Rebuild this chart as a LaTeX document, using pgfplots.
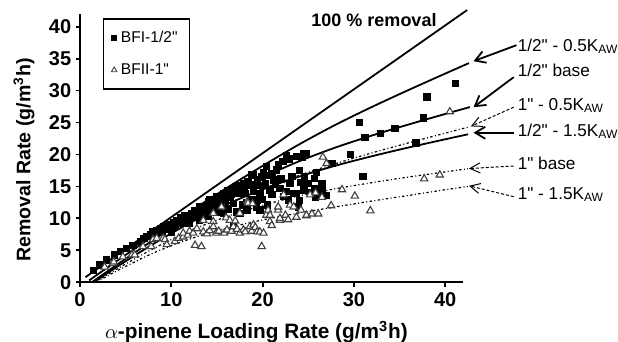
\documentclass[border=0pt]{standalone}
\usepackage{fontspec}
\setmainfont{Liberation Sans}[Ligatures=TeXOff]
\usepackage{pgfplots}
\usepackage{pgfplotstable}
\pgfplotsset{compat=1.18}
\usetikzlibrary{arrows.meta}

\pgfplotstableread{
x y
1.5 1.9
2.2 2.7
2.9 3.5
3.8 4.3
4.4 4.8
5.1 5.3
5.8 5.8
6.6 6.4
7.0 6.9
7.3 7.2
7.7 7.5
8.0 7.9
8.2 7.4
8.4 8.1
8.6 7.9
8.8 8.4
9.0 8.0
9.2 8.7
9.4 8.3
9.7 9.0
9.9 8.6
10.0 7.9
10.2 9.3
10.4 8.8
10.6 9.7
10.8 9.2
11.0 10.1
11.2 9.3
11.5 10.5
11.7 9.5
11.9 10.0
12.0 9.2
12.2 10.8
12.4 10.2
12.6 11.2
12.8 10.8
13.0 10.6
13.1 9.7
13.1 11.8
13.4 10.9
13.5 11.8
13.8 11.3
14.0 10.3
14.1 12.6
14.2 12.9
14.4 11.6
14.6 12.4
14.8 11.9
15.0 13.4
15.2 11.0
15.3 12.0
15.4 12.6
15.7 13.4
15.7 13.9
15.7 10.8
15.9 12.8
16.2 14.4
16.2 11.5
16.4 13.3
16.6 13.8
16.8 14.7
16.8 14.2
16.8 12.3
16.8 9.2
17.0 15.0
17.2 11.0
17.3 14.0
17.5 15.2
17.5 10.8
17.7 14.4
17.8 12.1
17.9 15.5
18.0 14.8
18.1 13.9
18.3 12.4
18.3 11.3
18.4 15.7
18.6 15.2
18.7 13.0
18.8 16.8
19.0 16.8
19.0 15.0
19.0 14.2
19.3 11.8
19.4 12.9
19.4 16.0
19.7 13.9
19.7 11.3
19.8 15.2
19.9 16.5
20.0 13.0
20.1 17.1
20.3 15.4
20.4 18.1
20.5 12.1
20.6 16.7
20.8 14.4
21.0 17.0
21.0 13.8
21.2 16.0
21.4 15.4
21.5 17.6
21.7 18.4
21.9 14.7
22.0 16.2
22.2 18.9
22.3 13.4
22.6 19.9
22.6 14.2
22.8 12.9
22.9 19.3
23.0 15.5
23.2 16.6
23.4 13.9
23.7 19.7
23.7 13.9
23.9 11.8
24.0 17.5
24.0 12.8
24.2 15.6
24.3 19.5
24.5 20.2
24.5 14.4
24.5 14.7
24.6 16.5
24.8 20.2
25.0 15.5
25.3 14.0
25.7 14.7
25.7 16.3
25.8 13.3
25.9 13.4
25.9 17.2
26.5 15.4
26.5 14.2
27.0 13.6
27.6 18.6
29.6 20.0
30.6 25.0
31.0 16.6
31.2 22.7
32.9 23.3
34.5 24.1
36.8 21.8
37.6 25.7
38.0 29.0
41.1 31.1
}\bfione

\pgfplotstableread{
x y
2.7 2.4
3.6 3.0
3.7 3.2
4.7 4.0
5.7 4.3
6.0 4.3
6.9 5.6
7.8 5.6
8.0 6.7
8.4 6.9
9.1 6.9
9.3 6.7
9.5 5.9
10.4 6.4
10.8 6.9
11.3 7.1
11.3 7.7
11.8 7.4
12.0 8.0
12.4 7.7
12.6 5.8
12.8 8.4
13.3 5.6
13.5 7.9
13.5 9.7
13.9 7.6
14.2 8.1
14.6 10.8
14.6 9.5
14.6 8.7
14.9 7.7
15.2 8.0
15.5 11.8
15.8 7.7
16.0 10.1
16.1 8.2
16.4 9.7
16.6 8.0
16.8 8.7
17.0 9.6
17.2 8.3
17.5 7.7
17.5 10.8
17.9 8.2
18.1 7.9
18.3 12.6
18.4 12.4
18.6 8.7
18.8 8.0
18.9 12.3
19.0 9.0
19.2 8.6
19.4 7.9
19.7 7.9
19.9 5.6
20.1 7.7
20.4 10.5
20.6 11.3
20.8 9.5
20.8 10.5
21.0 8.9
21.7 11.3
21.7 11.8
21.9 9.7
21.9 10.0
22.3 13.7
22.5 10.5
22.8 9.8
23.0 12.1
23.4 11.8
23.7 10.2
24.2 11.3
24.8 10.4
24.8 10.5
25.2 13.7
25.4 10.7
25.8 14.0
26.1 10.7
26.5 13.3
26.6 19.6
27.0 18.6
27.5 12.0
28.7 14.5
30.1 13.5
31.8 11.2
37.7 16.2
39.4 16.8
40.5 26.7
}\bfiitwo

\begin{document}
\begin{tikzpicture}
\begin{axis}[
  at={(0,0)}, anchor=south west,
  scale only axis, width=191.75pt, height=134.2pt,
  xmin=0, xmax=42, ymin=0, ymax=42,
  axis x line*=bottom, axis y line*=left,
  axis line style={-, line width=1pt},
  clip=false,
  xtick={0,10,20,30,40}, ytick={0,5,...,40},
  tick align=outside, major tick length=2.2pt,
  tick style={line width=0.9pt, black},
  ticklabel style={font=\bfseries\fontsize{10}{12}\selectfont},
  yticklabel style={inner xsep=2pt},
  xticklabel style={inner ysep=2.5pt},
  /pgf/number format/assume math mode=true,
  xlabel={$\alpha$\textbf{-pinene Loading Rate (g/m\textsuperscript{3}h)}},
  ylabel={\textbf{Removal Rate (g/m\textsuperscript{3}h)}},
  xlabel style={font=\fontsize{10.4}{12}\selectfont, at={(axis description cs:0.46,-0.187)}, anchor=center},
  ylabel style={font=\fontsize{9.8}{12}\selectfont, at={(axis description cs:-0.146,0.455)}, anchor=center},
  legend style={at={(axis cs:2.5,41.3)}, anchor=north west, draw=black, line width=0.6pt,
    font=\fontsize{7.8}{9}\selectfont, row sep=5pt, inner xsep=4pt, inner ysep=4pt,
    cells={anchor=west}},
  legend image code/.code={\draw[#1] plot coordinates {(0.15cm,0cm)};},
]
\addlegendimage{only marks, mark=square*, mark size=1.1pt, black}
\addlegendentry{BFI-1/2"}
\addlegendimage{only marks, mark=triangle, mark size=1.6pt, black!75, mark options={line width=0.45pt}}
\addlegendentry{BFII-1"}

% model curves
\addplot[black, line width=0.9pt, forget plot] coordinates {(0.6,0.8) (42.4,42.6)};
\addplot[black, line width=0.9pt, smooth, forget plot] coordinates {(1,0.3) (4,3.3) (8,7.22) (12,11.02) (16,14.7) (20,18.22) (24,21.58) (28,24.66) (32,27.46) (36,30.1) (40,32.66) (42.6,34.3)};
\addplot[black, line width=0.9pt, smooth, forget plot] coordinates {(1.3,0) (4,2.7) (8,6.58) (12,10.26) (16,13.54) (20,16.42) (24,18.94) (28,21.1) (32,22.98) (36,24.7) (40,26.34) (42.7,27.42)};
\addplot[black, line width=0.9pt, smooth, forget plot] coordinates {(1.5,0) (4,2.38) (8,5.98) (12,9.26) (16,12.14) (20,14.54) (24,16.54) (28,18.26) (32,19.74) (36,21.1) (40,22.38) (42.5,23.16)};
\addplot[black, line width=0.6pt, smooth, dash pattern=on 1.2pt off 1.2pt on 0.5pt off 1.2pt, forget plot] coordinates {(1.5,0) (4,2.38) (8,5.98) (12,9.26) (16,12.14) (20,14.62) (24,16.74) (28,18.58) (32,20.26) (36,21.82) (40,23.34) (42.5,24.27)};
\addplot[black, line width=0.6pt, smooth, dash pattern=on 1.2pt off 1.2pt on 0.5pt off 1.2pt, forget plot] coordinates {(1.6,0) (4,2.04) (8,5.24) (12,8.04) (16,10.24) (20,12.04) (24,13.52) (28,14.64) (32,15.6) (36,16.48) (40,17.28) (42.5,17.78)};
\addplot[black, line width=0.6pt, smooth, dash pattern=on 1.2pt off 1.2pt on 0.5pt off 1.2pt, forget plot] coordinates {(1.8,0) (4,1.76) (8,4.56) (12,6.76) (16,8.44) (20,9.76) (24,10.84) (28,11.8) (32,12.72) (36,13.6) (40,14.48) (42.5,15.0)};

% data
\addplot[only marks, mark=square*, mark size=1.6pt, black, forget plot] table[x=x,y=y] {\bfione};
\addplot[only marks, mark=triangle*, mark size=2.1pt, draw=black!75, fill=white, mark options={line width=0.55pt}, forget plot] table[x=x,y=y] {\bfiitwo};

% annotations
\node[font=\bfseries\fontsize{9}{10}\selectfont] at (axis cs:32.2,41.0) {100 \% removal};
\begin{scope}[font=\fontsize{8.6}{10}\selectfont]
\node[anchor=west, inner sep=0pt] at (axis cs:47.9,36.9) {1/2" - 0.5K\textsubscript{AW}};
\node[anchor=west, inner sep=0pt] at (axis cs:47.9,33.1) {1/2" base};
\node[anchor=west, inner sep=0pt] at (axis cs:47.9,27.6) {1" - 0.5K\textsubscript{AW}};
\node[anchor=west, inner sep=0pt] at (axis cs:47.9,23.6) {1/2" - 1.5K\textsubscript{AW}};
\node[anchor=west, inner sep=0pt] at (axis cs:47.9,18.6) {1" base};
\node[anchor=west, inner sep=0pt] at (axis cs:47.9,13.7) {1" - 1.5K\textsubscript{AW}};
\end{scope}
\draw[line width=0.9pt, -{Straight Barb[length=5pt,width=6pt]}] (axis cs:47.8,37.1) -- (axis cs:43.1,34.6);
\draw[line width=0.9pt, -{Straight Barb[length=5pt,width=6pt]}] (axis cs:47.5,32.1) -- (axis cs:43.1,27.4);
\draw[line width=0.9pt, -{Straight Barb[length=5pt,width=6pt]}] (axis cs:47.5,23.4) -- (axis cs:43.1,23.4);
\draw[line width=0.5pt, dash pattern=on 1.5pt off 1pt, -{Straight Barb[length=5pt,width=5pt]}] (axis cs:47.5,27.4) -- (axis cs:42.8,24.4);
\draw[line width=0.5pt, dash pattern=on 1.5pt off 1pt, -{Straight Barb[length=5pt,width=5pt]}] (axis cs:47.5,18.2) -- (axis cs:42.6,17.8);
\draw[line width=0.5pt, dash pattern=on 1.5pt off 1pt, -{Straight Barb[length=5pt,width=5pt]}] (axis cs:47.5,13.4) -- (axis cs:42.6,15.1);
\end{axis}
\pgfresetboundingbox
\path[use as bounding box] (-40pt,-29.85pt) rectangle (269pt,141.15pt);
\end{tikzpicture}
\end{document}
